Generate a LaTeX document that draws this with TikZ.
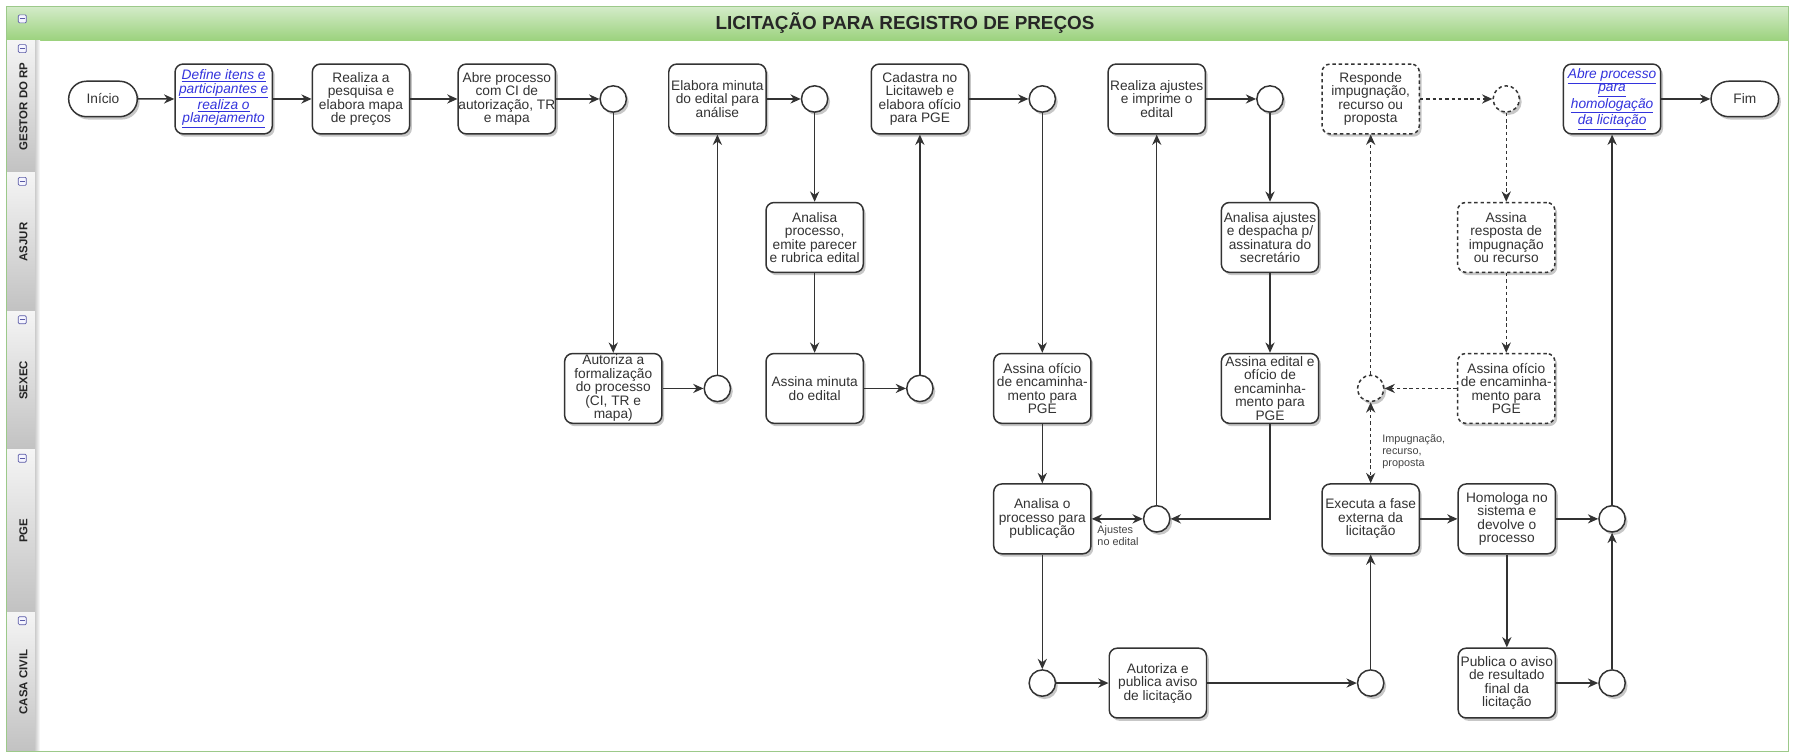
\documentclass[tikz,border=0pt]{standalone}
\usepackage{fontspec}
\setmainfont{Liberation Sans}
\usetikzlibrary{arrows.meta,shapes.misc,shadows}
\definecolor{ln}{HTML}{333333}
\definecolor{linkc}{RGB}{51,51,221}
\definecolor{lbl}{HTML}{444444}
\definecolor{hdtop}{HTML}{D3EBC8}
\definecolor{hdbot}{HTML}{9CD27E}
\definecolor{framec}{HTML}{9CC98A}
\newcommand\lnk[1]{\textcolor{linkc}{\underline{\textit{#1}}}}
\begin{document}
\begin{tikzpicture}[x=1pt,y=-1pt,
 shd/.style={drop shadow={shadow xshift=2pt,shadow yshift=-2.5pt,opacity=0.22,fill=black}},
 task/.style={draw=ln,line width=1.3pt,rounded corners=7pt,fill=white,minimum width=85pt,minimum height=61pt,inner xsep=0pt,inner ysep=0pt,align=center,font=\fontsize{12}{11.8}\selectfont,text=ln,shd},
 dtask/.style={task,dash pattern=on 3pt off 2.5pt},
 gate/.style={circle,draw=ln,line width=1.3pt,fill=white,minimum size=23pt,inner sep=0pt,shd},
 dgate/.style={gate,dash pattern=on 3pt off 2.5pt},
 term/.style={rounded rectangle,draw=ln,line width=1.3pt,fill=white,minimum width=60pt,minimum height=31pt,inner sep=0pt,font=\fontsize{12}{12}\selectfont,text=ln,shd},
 conn/.style={draw=ln,line width=1.3pt,-{Stealth[length=9pt,width=8pt]}},
 conn2/.style={draw=ln,line width=1.3pt,{Stealth[length=9pt,width=8pt]}-{Stealth[length=9pt,width=8pt]}},
 dconn/.style={conn,dash pattern=on 3pt off 2.5pt},
 dconn2/.style={conn2,dash pattern=on 3pt off 2.5pt},
 small/.style={align=left,inner sep=0pt,font=\fontsize{9.5}{10.2}\selectfont,text=lbl},
 lanelbl/.style={rotate=90,font=\fontsize{10}{10}\selectfont\bfseries,text=black!85},
 icon/.style={draw=gray!70!blue,fill=blue!4,rounded corners=1pt,minimum size=7pt,inner sep=0pt,line width=0.6pt}
]
\useasboundingbox (0,0) rectangle (1568,659);
\fill[white] (0,0) rectangle (1568,659);
% header
\shade[top color=hdtop,bottom color=hdbot] (6,6) rectangle (1563,35);
\node[font=\fontsize{16.5}{16.5}\selectfont\bfseries,text=black!85] (title) at (791,20.5) {LICITAÇÃO PARA REGISTRO DE PREÇOS};
% lane header column
\foreach \ta/\tb in {35/151,151/272,272/393,393/535,535/657}{
  \shade[top color=gray!8,bottom color=gray!48] (6,\ta) rectangle (31,\tb);
}
\shade[left color=black!18,right color=white] (31,35) rectangle (35,657);
\draw[framec,line width=0.8pt] (6,6) rectangle (1563,657);
\foreach \yy [count=\i] in {16.5,42.5,158.5,279.5,400.5,542.5}{
  \node[icon] (ic\i) at (19.5,\yy) {};
  \draw[gray!70!blue,line width=0.7pt] (17.5,\yy) -- (21.5,\yy);
}
\node[lanelbl] (l1) at (20.5,93) {GESTOR DO RP};
\node[lanelbl] (l2) at (20.5,211.5) {ASJUR};
\node[lanelbl] (l3) at (20.5,332.5) {SEXEC};
\node[lanelbl] (l4) at (20.5,464) {PGE};
\node[lanelbl] (l5) at (20.5,596) {CASA CIVIL};

% row 1
\node[term] (ini) at (90,86.5) {Início};
\node[task] (def) at (195.5,86.5) {\lnk{Define itens e}\\\lnk{participantes e}\\\lnk{realiza o}\\\lnk{planejamento}};
\node[task] (pesq) at (315.5,86.5) {Realiza a\\pesquisa e\\elabora mapa\\de preços};
\node[task] (abre) at (443,86.5) {Abre processo\\com CI de\\autorização, TR\\e mapa};
\node[gate] (g1) at (536,86.5) {};
\node[task] (elab) at (627,86.5) {Elabora minuta\\do edital para\\análise};
\node[gate] (g2) at (712,86.5) {};
\node[task] (cad) at (804,86.5) {Cadastra no\\Licitaweb e\\elabora ofício\\para PGE};
\node[gate] (g3) at (911,86.5) {};
\node[task] (ajus) at (1011,86.5) {Realiza ajustes\\e imprime o\\edital};
\node[gate] (g4) at (1110,86.5) {};
\node[dtask] (resp) at (1198,86.5) {Responde\\impugnação,\\recurso ou\\proposta};
\node[dgate] (g5) at (1316.5,86.5) {};
\node[task] (hom) at (1409,86.5) {\lnk{Abre processo}\\\lnk{para}\\\lnk{homologação}\\\lnk{da licitação}};
\node[term,minimum width=59pt] (fim) at (1525,86.5) {Fim};
% row 2
\node[task] (anp) at (712,207.5) {Analisa\\processo,\\emite parecer\\e rubrica edital};
\node[task] (ana) at (1110,207.5) {Analisa ajustes\\e despacha p/\\assinatura do\\secretário};
\node[dtask] (asr) at (1316.5,207.5) {Assina\\resposta de\\impugnação\\ou recurso};
% row 3
\node[task] (aut) at (536,339.5) {Autoriza a\\formalização\\do processo\\(CI, TR e\\mapa)};
\node[gate] (g6) at (627,339.5) {};
\node[task] (asm) at (712,339.5) {Assina minuta\\do edital};
\node[gate] (g7) at (804,339.5) {};
\node[task] (aso) at (911,339.5) {Assina ofício\\de encaminha-\\mento para\\PGE};
\node[task] (ase) at (1110,339.5) {Assina edital e\\ofício de\\encaminha-\\mento para\\PGE};
\node[dgate] (g8) at (1198,339.5) {};
\node[dtask] (aso2) at (1316.5,339.5) {Assina ofício\\de encaminha-\\mento para\\PGE};
% row 4
\node[task] (anpub) at (911,453.5) {Analisa o\\processo para\\publicação};
\node[gate] (g9) at (1011,453.5) {};
\node[task] (exe) at (1198,453.5) {Executa a fase\\externa da\\licitação};
\node[task] (homo) at (1317,453.5) {Homologa no\\sistema e\\devolve o\\processo};
\node[gate] (g10) at (1409,453.5) {};
% row 5
\node[gate] (g11) at (911,597) {};
\node[task] (autp) at (1012,597) {Autoriza e\\publica aviso\\de licitação};
\node[gate] (g12) at (1198,597) {};
\node[task] (pub) at (1317,597) {Publica o aviso\\de resultado\\final da\\licitação};
\node[gate] (g13) at (1409,597) {};

% connectors
\draw[conn] (ini) -- (def);
\draw[conn] (def) -- (pesq);
\draw[conn] (pesq) -- (abre);
\draw[conn] (abre) -- (g1);
\draw[conn] (g1) -- (aut);
\draw[conn] (aut) -- (g6);
\draw[conn] (g6) -- (elab);
\draw[conn] (elab) -- (g2);
\draw[conn] (g2) -- (anp);
\draw[conn] (anp) -- (asm);
\draw[conn] (asm) -- (g7);
\draw[conn] (g7) -- (cad);
\draw[conn] (cad) -- (g3);
\draw[conn] (g3) -- (aso);
\draw[conn] (aso) -- (anpub);
\draw[conn2] (anpub) -- (g9);
\draw[conn] (g9) -- (ajus);
\draw[conn] (ajus) -- (g4);
\draw[conn] (g4) -- (ana);
\draw[conn] (ana) -- (ase);
\draw[conn] (ase) |- (g9);
\draw[conn] (anpub) -- (g11);
\draw[conn] (g11) -- (autp);
\draw[conn] (autp) -- (g12);
\draw[conn] (g12) -- (exe);
\draw[conn] (exe) -- (homo);
\draw[conn] (homo) -- (g10);
\draw[conn] (homo) -- (pub);
\draw[conn] (pub) -- (g13);
\draw[conn] (g13) -- (g10);
\draw[conn] (g10) -- (hom);
\draw[conn] (hom) -- (fim);
% dashed
\draw[dconn2] (g8) -- (exe);
\draw[dconn] (g8) -- (resp);
\draw[dconn] (resp) -- (g5);
\draw[dconn] (g5) -- (asr);
\draw[dconn] (asr) -- (aso2);
\draw[dconn] (aso2) -- (g8);
% labels
\node[small,anchor=north west] (lajus) at (959,459.5) {Ajustes\\no edital};
\node[small,anchor=north west] (limp) at (1208,380) {Impugnação,\\recurso,\\proposta};
\end{tikzpicture}
\end{document}
